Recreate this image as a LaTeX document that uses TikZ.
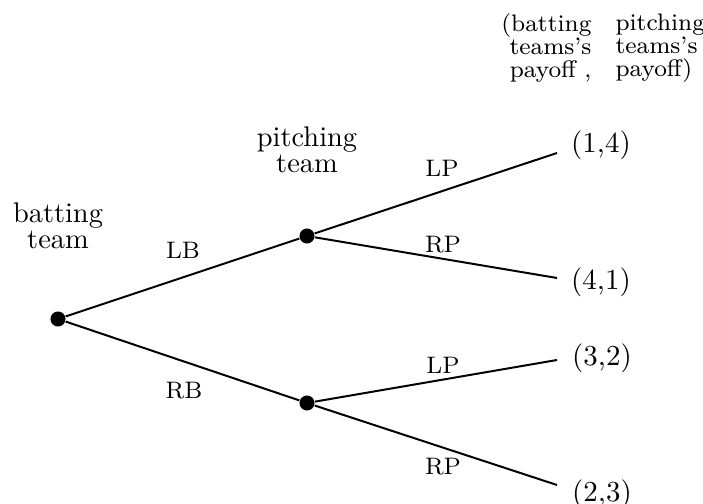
\documentclass[tikz,border=0pt]{standalone}
\usepackage{tikz}
\usetikzlibrary{positioning, calc}

\tikzset{
  dot/.style={circle, fill=black, inner sep=0pt, minimum size=5.3pt},
  branch/.style={line width=0.7pt},
  move/.style={font=\fontsize{8.4}{9}\selectfont, inner sep=0pt},
  player/.style={align=center, font=\fontsize{10}{8}\selectfont, inner sep=0pt},
  payoff/.style={font=\fontsize{10.2}{12}\selectfont, inner sep=0pt},
  head/.style={font=\fontsize{8.4}{8.1}\selectfont, inner sep=0pt}
}

\begin{document}
\begin{tikzpicture}[x=0.3521pt, y=-0.3521pt]
	\useasboundingbox (0,0) rectangle (703,504);
	
	\node[dot] (bat) at (58,319) {};
	\node[dot] (pitchL) at (307,236) {};
	\node[dot] (pitchR) at (307,403) {};
	
	\coordinate (e1) at (557,153);
	\coordinate (e2) at (557,278);
	\coordinate (e3) at (557,360);
	\coordinate (e4) at (557,485);
	
	\draw[branch] (bat) -- (pitchL);
	\draw[branch] (bat) -- (pitchR);
	\foreach \a/\b in {pitchL/e1, pitchL/e2, pitchR/e3, pitchR/e4}
	\draw[branch] (\a) -- (\b);
	
	\node[player] (batlbl) at (58,226) {batting\\team};
	\node[player] (pitchlbl) at (307,150) {pitching\\team};
	
	\node[move] (lb) at (183,250) {LB};
	\node[move] (rb) at (184,391) {RB};
	\node[move] (lp1) at (442,168) {LP};
	\node[move] (rp1) at (443,245) {RP};
	\node[move] (lp2) at (443,365) {LP};
	\node[move] (rp2) at (443,467) {RP};
	
	\node[payoff] (p1) at (601,145) {(1,4)};
	\node[payoff] (p2) at (601,282) {(4,1)};
	\node[payoff] (p3) at (602,358) {(3,2)};
	\node[payoff] (p4) at (602,494) {(2,3)};
	
	\node[head, align=right, anchor=east] (hbat) at (592,48) {(batting\\teams's\\payoff ,};
	\node[head, align=left, anchor=west] (hpitch) at (615,48) {pitching\\teams's\\payoff)};
\end{tikzpicture}
\end{document}
